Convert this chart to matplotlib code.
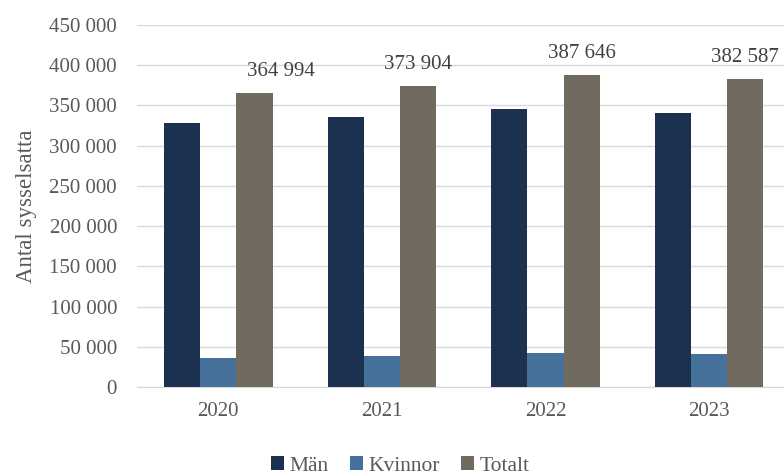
import matplotlib
matplotlib.use("Agg")
import matplotlib.pyplot as plt
import numpy as np
from matplotlib.ticker import FuncFormatter, MultipleLocator

years = ["2020", "2021", "2022", "2023"]
man = [328500, 335100, 345800, 341000]
kvinnor = [36500, 38800, 41800, 41600]
totalt = [364994, 373904, 387646, 382587]

series_names = ["Män", "Kvinnor", "Totalt"]
colors = ["#1c3050", "#46719b", "#716a5e"]
label_dx = [19, 0, 0, 0]  # label offsets in points
text_color = "#595959"

plt.rcParams['font.family'] = ['Liberation Serif', 'DejaVu Serif']

fig = plt.figure(figsize=(7.84, 4.75), dpi=100)
ax = fig.add_axes([136.5/784, 88/475, 650/784, 362/475])

x = np.arange(len(years))
w = 0.221
for i, (vals, name, c) in enumerate(zip([man, kvinnor, totalt], series_names, colors)):
    bars = ax.bar(x + (i - 1) * w, vals, width=w, color=c, label=name, zorder=3)
    if name == "Totalt":
        for b, v, dx in zip(bars, vals, label_dx):
            ax.annotate(f"{v:,}".replace(",", " "), (b.get_x() + b.get_width()/2, v),
                        xytext=(dx, 9), textcoords="offset points", ha="center", va="bottom",
                        fontsize=15, color="#404040", zorder=5)

ax.set_ylim(0, 450000)
ax.set_xlim(-0.5, 3.5 - 4.5/163)
ax.yaxis.set_major_locator(MultipleLocator(50000))
ax.yaxis.set_major_formatter(FuncFormatter(lambda v, p: f"{int(v):,}".replace(",", " ")))
ax.set_xticks(x)
ax.set_xticklabels(years)
ax.grid(axis="y", color="#d9d9d9", linewidth=1, zorder=0)
for s in ["top", "right", "left"]:
    ax.spines[s].set_visible(False)
ax.spines["bottom"].set_color("#d9d9d9")
ax.tick_params(axis="y", length=0, labelsize=15, labelcolor=text_color, pad=14)
ax.tick_params(axis="x", length=0, labelsize=15, labelcolor=text_color, pad=11)
ax.set_ylabel("Antal sysselsatta", fontsize=16.5, color=text_color, labelpad=9)

leg = fig.legend(loc="center", bbox_to_anchor=(400/784, 1 - 466/475), ncol=3, frameon=False,
                 prop={'family': ['Liberation Serif', 'DejaVu Serif'], 'size': 15.5},
                 handlelength=0.6, handleheight=0.6, handletextpad=0.25,
                 columnspacing=1.0, borderpad=0)
for t in leg.get_texts():
    t.set_color(text_color)

fig.savefig("out.png", dpi=100)
